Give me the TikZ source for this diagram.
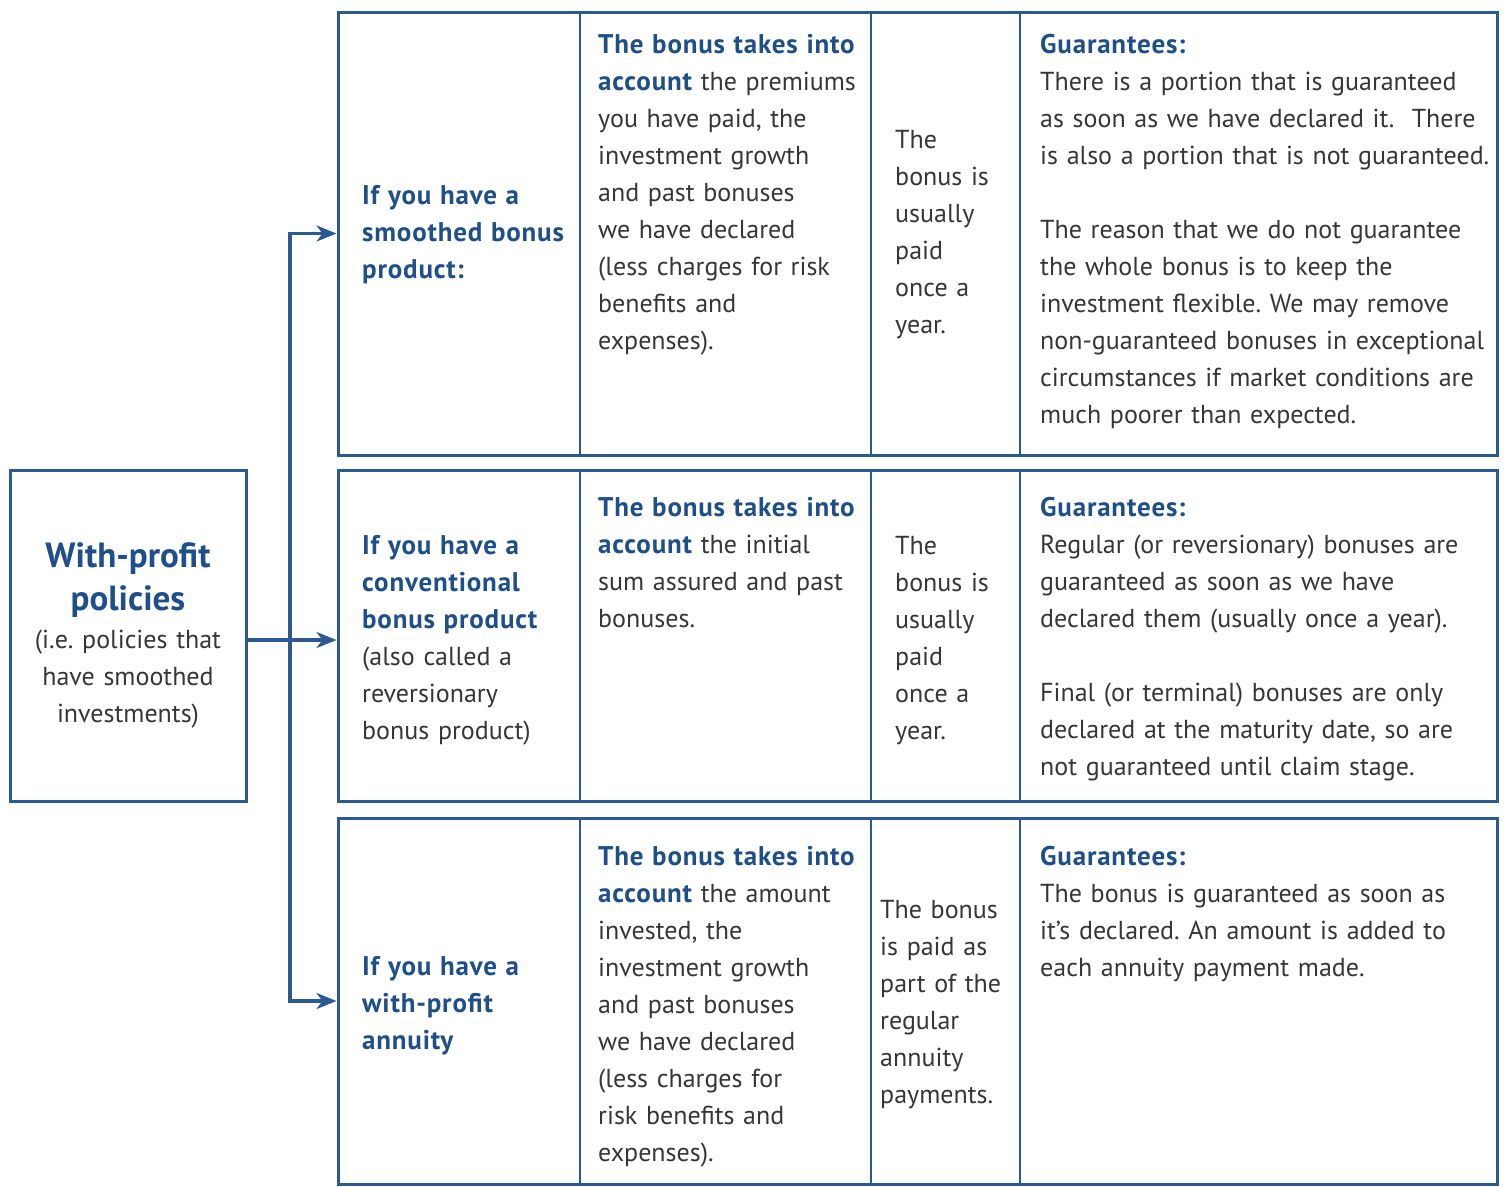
\documentclass[tikz,border=0pt]{standalone}
\usepackage{fontspec}
\setmainfont{PT Sans}
\usetikzlibrary{arrows.meta}
\definecolor{wpblue}{HTML}{1F4F88}
\definecolor{wptext}{HTML}{363636}
\definecolor{wpline}{HTML}{2A5A90}
\newcommand{\hl}[1]{{\fontsize{27}{37}\selectfont\bfseries\addfontfeatures{LetterSpace=3}\color{wpblue}#1}}
\newcommand{\ttl}[1]{{\bfseries\color{wpblue}#1}}
\frenchspacing
\begin{document}
\begin{tikzpicture}[x=1pt,y=-1pt,
  rowbox/.style={draw=wpline,line width=3pt,rectangle,inner sep=0pt},
  coldiv/.style={draw=wpline,line width=1.8pt},
  txt/.style={anchor=base west,inner sep=0pt,text width=#1,align=left,text=wptext,font=\fontsize{26}{37}\selectfont\frenchspacing},
  ctxt/.style={anchor=base,inner sep=0pt,text width=230pt,align=center,text=wptext,font=\fontsize{26}{37}\selectfont\frenchspacing},
  link/.style={draw=wpline,line width=3.2pt},
  arr/.style={link,-{Stealth[length=20pt,width=16pt,inset=6pt]}}]

\useasboundingbox (0,0) rectangle (1504,1186);

% boxes
\node[rowbox,minimum width=236pt,minimum height=331pt] (left) at (128,635.5) {};
\node[rowbox,minimum width=1159pt,minimum height=443pt] (r1) at (917.5,233.5) {};
\node[rowbox,minimum width=1159pt,minimum height=331pt] (r2) at (917.5,635.5) {};
\node[rowbox,minimum width=1159pt,minimum height=366pt] (r3) at (917.5,1001) {};

% column dividers
\foreach \cx in {580,871,1020} {
  \draw[coldiv] (\cx,12) -- (\cx,455);
  \draw[coldiv] (\cx,470) -- (\cx,801);
  \draw[coldiv] (\cx,818) -- (\cx,1184);
}

% connectors
\coordinate (jm) at (290,640);
\draw[arr] (jm |- r3.west) -- (jm |- r1.west) -- (r1.west);
\draw[arr] (jm |- r1.west) -- (jm |- r3.west) -- (r3.west);
\draw[arr] (left.east |- jm) -- (r2.west |- jm);

% left box text
\node[ctxt,font=\fontsize{35}{43}\selectfont] (lt) at (128,567) {\ttl{With-profit}\\\ttl{policies}};
\node[ctxt] (ls) at (128,648) {(i.e. policies that\\have smoothed\\investments)};

% row 1
\node[txt=230pt] (a1) at (362,204) {\hl{If you have a}\\\hl{smoothed bonus}\\\hl{product:}};
\node[txt=275pt] (b1) at (598,53) {\hl{The bonus takes into}\\\hl{account} the premiums\\you have paid, the\\investment growth\\and past bonuses\\we have declared\\(less charges for risk\\benefits and\\expenses).};
\node[txt=140pt] (c1) at (895,148) {The\\bonus is\\usually\\paid\\once a\\year.};
\node[txt=455pt] (d1) at (1040,53) {\hl{Guarantees:}\\There is a portion that is guaranteed\\as soon as we have declared it.\ \ There\\is also a portion that is not guaranteed.\\[37pt]The reason that we do not guarantee\\the whole bonus is to keep the\\investment flexible. We may remove\\non-guaranteed bonuses in exceptional\\circumstances if market conditions are\\much poorer than expected.};

% row 2
\node[txt=230pt] (a2) at (362,554) {\hl{If you have a}\\\hl{conventional}\\\hl{bonus product}\\(also called a\\reversionary\\bonus product)};
\node[txt=275pt] (b2) at (598,516) {\hl{The bonus takes into}\\\hl{account} the initial\\sum assured and past\\bonuses.};
\node[txt=140pt] (c2) at (895,554) {The\\bonus is\\usually\\paid\\once a\\year.};
\node[txt=455pt] (d2) at (1040,516) {\hl{Guarantees:}\\Regular (or reversionary) bonuses are\\guaranteed as soon as we have\\declared them (usually once a year).\\[37pt]Final (or terminal) bonuses are only\\declared at the maturity date, so are\\not guaranteed until claim stage.};

% row 3
\node[txt=230pt] (a3) at (362,975) {\hl{If you have a}\\\hl{with-profit}\\\hl{annuity}};
\node[txt=275pt] (b3) at (598,865) {\hl{The bonus takes into}\\\hl{account} the amount\\invested, the\\investment growth\\and past bonuses\\we have declared\\(less charges for\\risk benefits and\\expenses).};
\node[txt=140pt] (c3) at (880,918) {The bonus\\is paid as\\part of the\\regular\\annuity\\payments.};
\node[txt=455pt] (d3) at (1040,865) {\hl{Guarantees:}\\The bonus is guaranteed as soon as\\it's declared. An amount is added to\\each annuity payment made.};
\end{tikzpicture}
\end{document}
